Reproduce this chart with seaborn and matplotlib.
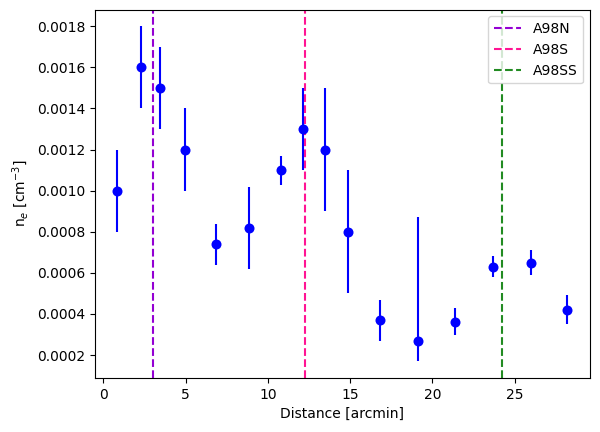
import matplotlib
matplotlib.use('Agg')
import matplotlib.pyplot as plt
import pandas as pd
import seaborn as sns

# distances [arcmin] and electron densities
distance = [0.85, 2.3, 3.45, 4.95, 6.85, 8.85, 10.8, 12.15, 13.45, 14.9,
            16.8, 19.1, 21.4, 23.7, 26.0, 28.2]
ne = [0.0010, 0.0016, 0.0015, 0.0012, 0.00074, 0.00082, 0.0011, 0.0013,
      0.0012, 0.0008, 0.00037, 0.00027, 0.00036, 0.00063, 0.00065, 0.00042]
err_low = [0.0002, 0.0002, 0.0002, 0.0002, 0.0001, 0.0002, 0.00007, 0.0002,
           0.0003, 0.0003, 0.0001, 0.0001, 0.00006, 0.00005, 0.00006, 0.00007]
err_high = [0.0002, 0.0002, 0.0002, 0.0002, 0.0001, 0.0002, 0.00007, 0.0002,
            0.0003, 0.0003, 0.0001, 0.0006, 0.00007, 0.00005, 0.00006, 0.00007]

# positions of the subclusters
sub_names = ['A98N', 'A98S', 'A98SS']
sub_pos = [3.0, 12.25, 24.25]
sub_colors = ['darkviolet', 'deeppink', 'forestgreen']

df = pd.DataFrame({'Distance': distance, 'ne': ne})

sns.set_style('ticks', {'axes.edgecolor': 'black', 'xtick.color': 'black',
                        'ytick.color': 'black', 'text.color': 'black',
                        'axes.labelcolor': 'black'})
plt.rcParams['font.family'] = ['DejaVu Sans']

fig, ax = plt.subplots(figsize=(6.0, 4.32), dpi=100)
fig.subplots_adjust(left=0.158, right=0.983, top=0.978, bottom=0.125)

ax.errorbar(df['Distance'], df['ne'], yerr=[err_low, err_high], fmt='none',
            ecolor='blue', elinewidth=1.5, zorder=2)
sns.scatterplot(x='Distance', y='ne', data=df, color='blue', s=52,
                linewidth=0, ax=ax, zorder=3)

for name, pos, col in zip(sub_names, sub_pos, sub_colors):
    ax.axvline(pos, color=col, linestyle='--', label=name, zorder=1.5)

ax.set_xlabel('Distance [arcmin]')
ax.set_ylabel(r'n$_e$ [cm$^{-3}$]')
ax.legend(loc='upper right')

plt.savefig('out.png')
